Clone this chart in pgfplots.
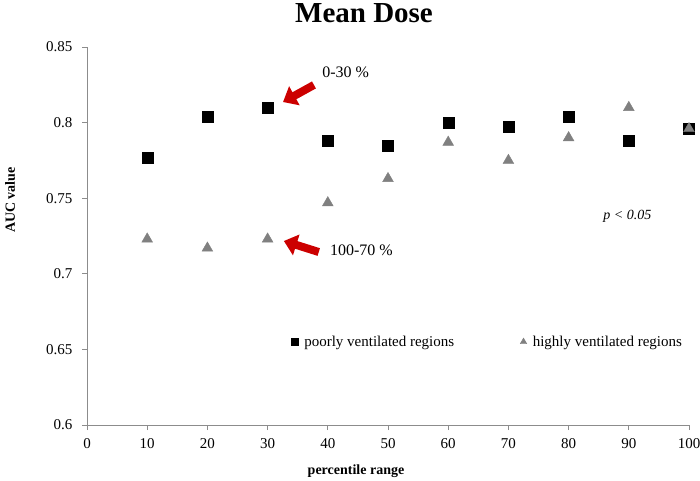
\documentclass[border=0pt]{standalone}
\usepackage{pgfplots}
\pgfplotsset{compat=1.18}
\usepackage{fontspec}
\setmainfont{Liberation Serif}
\usetikzlibrary{arrows.meta}
\definecolor{arrred}{RGB}{204,0,0}
\definecolor{axgray}{RGB}{140,140,140}
\definecolor{trigray}{RGB}{128,128,128}
\begin{document}
\begin{tikzpicture}
\useasboundingbox (0pt,0pt) rectangle (700pt,480pt);
\node[font=\fontsize{29}{32}\selectfont\bfseries, anchor=base] at (364pt,457pt) {Mean Dose};
\node[font=\fontsize{14}{16}\selectfont\bfseries, rotate=90] at (10pt,280pt) {AUC value};
\node[font=\fontsize{14}{16}\selectfont\bfseries, anchor=base] at (356pt,6pt) {percentile range};
\begin{axis}[
  at={(87pt,55pt)}, anchor=south west,
  scale only axis, width=602pt, height=378pt,
  xmin=0, xmax=100, ymin=0.6, ymax=0.85,
  xtick={0,10,20,30,40,50,60,70,80,90,100},
  ytick={0.6,0.65,0.7,0.75,0.8,0.85},
  yticklabels={0.6,0.65,0.7,0.75,0.8,0.85},
  axis lines*=left,
  axis line style={axgray, line width=0.8pt},
  tick style={axgray, line width=0.8pt},
  tick align=outside, major tick length=5pt,
  ticklabel style={font=\fontsize{15}{17}\selectfont, text=black},
  yticklabel style={xshift=-6pt},
  xticklabel style={yshift=-5pt},
  /pgf/number format/assume math mode=true,
  clip=false,
  legend style={draw=none, fill=none, at={(axis cs:33.4,0.655)}, anchor=west,
    legend columns=2, font=\fontsize{15}{17}\selectfont,
    /tikz/every odd column/.append style={column sep=5pt},
    /tikz/every even column/.append style={column sep=65pt},
    nodes={inner sep=1pt}},
  legend image code/.code={\draw plot coordinates {(0pt,0pt)};},
]
\addplot[only marks, mark=square*, mark size=5.5pt, black,
  legend image post style={mark size=3.5pt}] coordinates {
 (10,0.777) (20,0.804) (30,0.810) (40,0.788) (50,0.785)
 (60,0.800) (70,0.797) (80,0.804) (90,0.788) (100,0.796)};
\addlegendentry{poorly ventilated regions}
\addplot[only marks, mark=triangle*, mark size=6.2pt, trigray,
  mark options={fill=trigray, draw=trigray},
  legend image post style={mark size=3.8pt}] coordinates {
 (10,0.723) (20,0.717) (30,0.723) (40,0.747) (50,0.763)
 (60,0.787) (70,0.775) (80,0.790) (90,0.810) (100,0.796)};
\addlegendentry{highly ventilated regions}
\draw[arrred, line width=8pt, -{Triangle[width=21pt,length=13pt]}] (axis cs:37.7,0.8249) -- (axis cs:32.56,0.8136);
\draw[arrred, line width=8pt, -{Triangle[width=21pt,length=13pt]}] (axis cs:38.5,0.7144) -- (axis cs:32.7,0.7217);
\node[anchor=west, font=\fontsize{16}{18}\selectfont] at (axis cs:38.5,0.833) {0-30 \%};
\node[anchor=west, font=\fontsize{16}{18}\selectfont] at (axis cs:39.8,0.7155) {100-70 \%};
\node[anchor=west, font=\fontsize{14}{16}\selectfont\itshape] at (axis cs:85.2,0.738) {p < 0.05};
\end{axis}
\end{tikzpicture}
\end{document}
